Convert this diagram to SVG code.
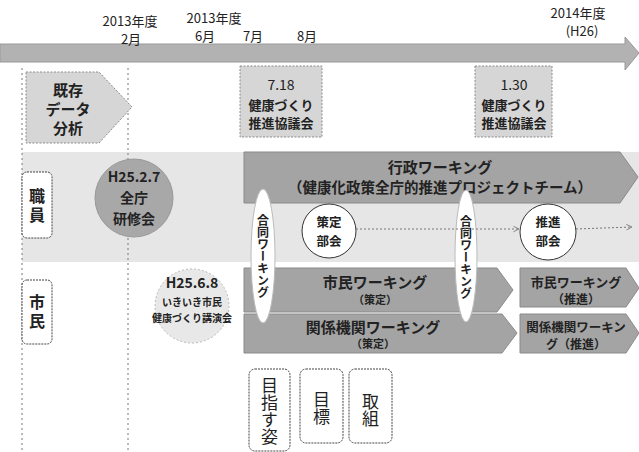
<svg xmlns="http://www.w3.org/2000/svg" width="639" height="452" viewBox="0 0 639 452">
<style>
text{font-family:"Noto Sans CJK JP","Noto Sans",sans-serif;fill:#222;text-anchor:middle;dominant-baseline:central}
.b{font-weight:bold}
.dark{fill:#a4a4a4;stroke:#8a8a8a;stroke-width:1}
.lite{fill:#d6d6d6;stroke:#8c8c8c;stroke-width:1;stroke-dasharray:2 1.5}
.guide{stroke:#777;stroke-width:1;stroke-dasharray:2 3;fill:none}
.lbl{fill:#fff;stroke:#444;stroke-width:1;stroke-dasharray:2 1}
.vt{writing-mode:vertical-rl}
.conn{stroke:#777;stroke-width:1;stroke-dasharray:2 2;fill:none}
</style>
<defs>
<marker id="ah" viewBox="0 0 10 10" refX="9" refY="5" markerWidth="7" markerHeight="7" orient="auto"><path d="M1,1 L9,5 L1,9" fill="none" stroke="#777" stroke-width="1.2"/></marker>
</defs>
<rect width="639" height="452" fill="#fff"/>

<!-- timeline -->
<g id="timeline">
<polygon points="0,44 625,44 625,37 639,53 625,70 625,62 0,62" fill="#b2b2b2" stroke="#999"/>
<text x="130" y="20" font-size="13">2013年度</text>
<text x="131" y="38" font-size="13">2月</text>
<text x="214" y="17" font-size="13">2013年度</text>
<text x="205" y="35" font-size="13">6月</text>
<text x="253" y="35" font-size="13">7月</text>
<text x="307" y="35" font-size="13">8月</text>
<text x="578" y="12" font-size="13">2014年度</text>
<text x="582" y="30" font-size="13">(H26)</text>
</g>

<!-- staff band -->
<rect x="22" y="152" width="617" height="110" fill="#e6e6e6"/>

<!-- guides -->
<g id="guides">
<line class="guide" x1="22" y1="68" x2="22" y2="452"/>
<line class="guide" x1="128" y1="68" x2="128" y2="450"/>
</g>

<g id="kizon">
<polygon points="26,72 99,72 132,107 99,143 26,143" class="lite"/>
<text x="68" y="89" font-size="15" class="b">既存</text>
<text x="68" y="108" font-size="15" class="b">データ</text>
<text x="68" y="127" font-size="15" class="b">分析</text>
</g>

<g id="kyogikai1">
<rect x="240" y="66" width="82" height="71" class="lite"/>
<text x="281" y="84" font-size="14">7.18</text>
<text x="281" y="104" font-size="13" class="b">健康づくり</text>
<text x="281" y="122" font-size="13" class="b">推進協議会</text>
</g>

<g id="kyogikai2">
<rect x="475" y="66" width="77" height="71" class="lite"/>
<text x="514" y="84" font-size="14">1.30</text>
<text x="514" y="104" font-size="13" class="b">健康づくり</text>
<text x="514" y="122" font-size="13" class="b">推進協議会</text>
</g>

<g id="shokuin">
<rect x="22" y="172" width="30" height="66" rx="5" class="lbl"/>
<text x="37" y="207" font-size="16" letter-spacing="3" class="vt b">職員</text>
</g>

<g id="shimin">
<rect x="22" y="280" width="30" height="64" rx="5" class="lbl"/>
<text x="37" y="313" font-size="16" letter-spacing="3" class="vt b">市民</text>
</g>

<g id="kenshukai">
<circle cx="134" cy="198" r="39" fill="#a8a8a8" stroke="#999"/>
<text x="134" y="176" font-size="14" class="b">H25.2.7</text>
<text x="134" y="197" font-size="14" class="b">全庁</text>
<text x="134" y="218" font-size="14" class="b">研修会</text>
</g>

<g id="koenkai">
<circle cx="192" cy="306" r="37" fill="#e8e8e8" stroke="#bbb" stroke-dasharray="2 2"/>
<text x="192" y="282" font-size="14" class="b">H25.6.8</text>
<text x="192" y="301" font-size="10" class="b">いきいき市民</text>
<text x="192" y="317" font-size="10" class="b">健康づくり講演会</text>
</g>

<g id="gyosei">
<polygon points="244,152 620,152 638,177 620,203 244,203" class="dark"/>
<text x="440" y="166" font-size="15" class="b">行政ワーキング</text>
<text x="440" y="186" font-size="14.5" class="b">（健康化政策全庁的推進プロジェクトチーム）</text>
</g>

<g id="shimin-sakutei">
<polygon points="244,268 497,268 513,290 497,312 244,312" class="dark"/>
<text x="375" y="281" font-size="15" class="b">市民ワーキング</text>
<text x="375" y="299" font-size="11" class="b">（策定）</text>
</g>

<g id="kankei-sakutei">
<polygon points="244,314 502,314 517,333 502,353 244,353" class="dark"/>
<text x="373" y="326" font-size="15" class="b">関係機関ワーキング</text>
<text x="373" y="343" font-size="11" class="b">（策定）</text>
</g>

<g id="shimin-suishin">
<polygon points="520,268 626,268 639,288 626,307 520,307" class="dark"/>
<text x="576" y="281" font-size="13" class="b">市民ワーキング</text>
<text x="576" y="298" font-size="12" class="b">（推進）</text>
</g>

<g id="kankei-suishin">
<polygon points="520,314 626,314 639,333 626,353 520,353" class="dark"/>
<text x="576" y="326" font-size="12.5" class="b">関係機関ワーキン</text>
<text x="576" y="343" font-size="12" class="b">グ（推進）</text>
</g>

<g id="sakutei-bukai">
<circle cx="329" cy="231" r="27" fill="#fff" stroke="#333"/>
<text x="329" y="221" font-size="12.5" class="b">策定</text>
<text x="329" y="240" font-size="12.5" class="b">部会</text>
</g>

<g id="suishin-bukai">
<circle cx="548" cy="232" r="28" fill="#fff" stroke="#333"/>
<text x="548" y="221" font-size="12.5" class="b">推進</text>
<text x="548" y="240" font-size="12.5" class="b">部会</text>
</g>

<g id="godo1">
<ellipse cx="263" cy="256" rx="12" ry="67" fill="#fff" stroke="#bbb"/>
<text x="263" y="256" font-size="12" class="vt b">合同ワーキング</text>
</g>

<g id="godo2">
<ellipse cx="466" cy="256" rx="11" ry="66" fill="#fff" stroke="#bbb"/>
<text x="466" y="257" font-size="12" class="vt b">合同ワーキング</text>
</g>

<g id="mezasu">
<rect x="249" y="369" width="41" height="82" rx="6" class="lbl"/>
<text x="269.5" y="411" font-size="17" class="vt">目指す姿</text>
</g>

<g id="mokuhyo">
<rect x="300" y="369" width="43" height="74" rx="6" class="lbl"/>
<text x="321.5" y="408" font-size="17" class="vt">目標</text>
</g>

<g id="torikumi">
<rect x="349" y="369" width="43" height="74" rx="6" class="lbl"/>
<text x="370.5" y="410" font-size="17" class="vt">取組</text>
</g>

<g id="connectors">
<line class="conn" x1="356" y1="229" x2="519" y2="229" marker-end="url(#ah)"/>
<line class="conn" x1="576" y1="229" x2="632" y2="227" marker-end="url(#ah)"/>
</g>
</svg>
